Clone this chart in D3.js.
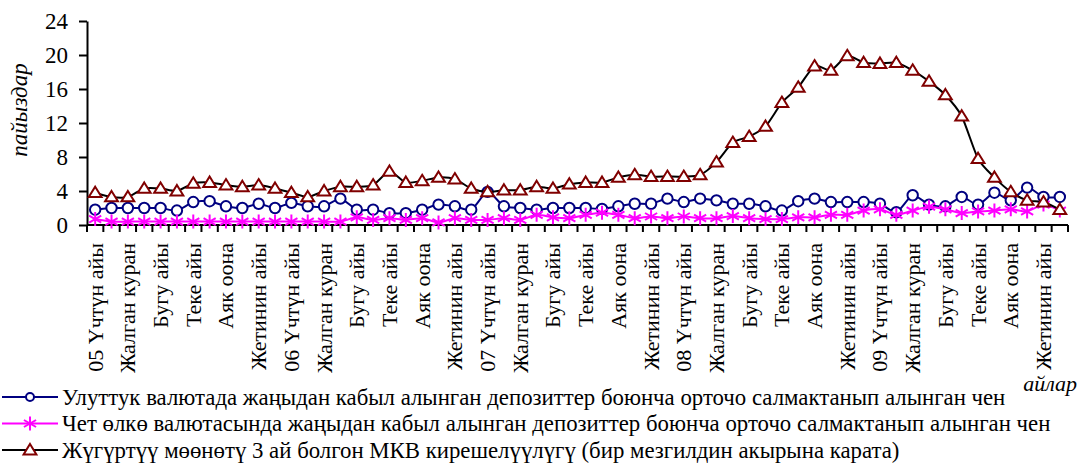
<!DOCTYPE html>
<html><head><meta charset="utf-8">
<script src="https://cdn.jsdelivr.net/npm/d3@7"></script>
<style>
html,body{margin:0;padding:0;background:#fff;}
svg{display:block;}
</style></head>
<body><svg id="c" width="1080" height="463"></svg>
<script>
const FONT = "Liberation Serif";
const months = ["Үчтүн айы","Бирдин айы","Жалган куран","Чын куран","Бугу айы","Кулжа","Теке айы","Баш оона","Аяк оона","Тогуздун айы","Жетинин айы","Бештин айы"];
const years = ["05","06","07","08","09"];
const categories = [];
years.forEach(y => months.forEach((m,i) => categories.push(i === 0 ? y + " " + m : m)));
const tickLabels = categories.filter((d,i) => i % 2 === 0);
const yTicks = [0,4,8,12,16,20,24];

const nationalRate = [1.8,2.0,2.0,2.0,2.0,1.7,2.7,2.8,2.2,2.0,2.5,2.0,
  2.6,2.2,2.2,3.1,1.8,1.8,1.4,1.4,1.8,2.4,2.2,1.8,
  3.9,2.2,2.0,1.8,2.0,2.0,2.0,1.9,2.2,2.5,2.5,3.1,
  2.7,3.1,2.9,2.5,2.5,2.2,1.7,2.8,3.1,2.7,2.7,2.7,
  2.5,1.5,3.5,2.4,2.2,3.3,2.4,3.8,2.9,4.4,3.3,3.3];
const foreignRate = [0.7,0.4,0.4,0.4,0.4,0.4,0.4,0.4,0.4,0.4,0.4,0.4,
  0.4,0.4,0.4,0.4,0.9,0.6,0.8,0.6,0.8,0.3,0.8,0.6,
  0.6,0.8,0.6,1.2,0.9,0.8,1.2,1.45,1.2,0.8,1.0,0.8,
  1.0,0.8,0.8,1.05,0.8,0.7,0.7,0.9,0.9,1.2,1.2,1.7,
  1.85,1.2,1.7,2.15,1.85,1.4,1.6,1.7,1.85,1.6,2.4,1.7];
const billYield = [3.8,3.3,3.3,4.3,4.3,4.0,4.9,5.0,4.7,4.5,4.7,4.3,
  3.8,3.3,4.0,4.5,4.5,4.7,6.3,5.0,5.2,5.6,5.4,4.3,
  3.9,4.1,4.1,4.5,4.3,4.8,5.0,5.0,5.6,5.9,5.7,5.7,
  5.7,5.9,7.4,9.7,10.4,11.6,14.4,16.2,18.7,18.2,19.9,19.1,
  19.0,19.1,18.2,16.9,15.3,12.8,7.8,5.6,3.9,2.9,2.7,1.8];
const legendLabels = [
  "Улуттук валютада жаңыдан кабыл алынган депозиттер боюнча орточо салмактанып алынган чен",
  "Чет өлкө валютасында жаңыдан кабыл алынган депозиттер боюнча орточо салмактанып алынган чен",
  "Жүгүртүү мөөнөтү 3 ай болгон МКВ кирешелүүлүгү (бир мезгилдин акырына карата)"
];
const yTitle = "пайыздар";
const xTitle = "айлар";

const svg = d3.select("#c").attr("font-family", FONT);
const x = d3.scaleBand().domain(d3.range(categories.length)).range([87, 1068]);
const y = d3.scaleLinear().domain([0, 24]).range([225, 21]);
const cx = i => x(i) + x.bandwidth() / 2;

// Y axis
const yAxis = svg.append("g").attr("transform", "translate(87,0)")
  .call(d3.axisLeft(y).tickValues(yTicks).tickSize(8).tickPadding(11).tickSizeOuter(0))
  .attr("font-family", FONT);
yAxis.select(".domain").attr("stroke", "#000").attr("stroke-width", 2);
yAxis.selectAll(".tick line").attr("stroke", "#000").attr("stroke-width", 2);
yAxis.selectAll(".tick text").attr("font-size", 23).attr("font-family", FONT).attr("fill", "#000").attr("dy", "0.33em");

// X axis
const xg = svg.append("g").attr("transform", "translate(0,225)");
xg.append("line").attr("x1", 87).attr("x2", 1068).attr("stroke", "#000").attr("stroke-width", 2);
const bounds = d3.range(categories.length + 1).map(i => i < categories.length ? x(i) : x(i - 1) + x.bandwidth());
xg.selectAll("line.t").data(bounds).join("line").attr("class", "t")
  .attr("x1", d => d).attr("x2", d => d).attr("y1", 0).attr("y2", 7)
  .attr("stroke", "#000").attr("stroke-width", 2);
xg.selectAll("text").data(d3.range(0, categories.length, 2)).join("text")
  .attr("transform", i => `translate(${cx(i) + 7.5},18) rotate(-90)`)
  .attr("text-anchor", "end").attr("font-size", 22).attr("font-family", FONT).attr("fill", "#000")
  .text(i => categories[i]);

// titles
svg.append("text").attr("transform", "translate(27,110) rotate(-90)")
  .attr("text-anchor", "middle").attr("font-size", 23).attr("font-family", FONT).attr("font-style", "italic").text(yTitle);
svg.append("text").attr("x", 1077).attr("y", 391).attr("text-anchor", "end")
  .attr("font-size", 22).attr("font-family", FONT).attr("font-style", "italic").text(xTitle);

const line = d3.line().x((d, i) => cx(i)).y(d => y(d)).curve(d3.curveCardinal.tension(0.3));

function starPath(s) {
  const r = s, d = s * 0.866;
  return `M0,${-r}L0,${r}M${-d},${-r/2}L${d},${r/2}M${-d},${r/2}L${d},${-r/2}`;
}
function triPath(s) {
  return `M0,${-s*0.75}L${s*0.8},${s*0.55}L${-s*0.8},${s*0.55}Z`;
}

// series 1 - national currency
svg.append("path").datum(nationalRate).attr("d", line).attr("fill", "none").attr("stroke", "#000080").attr("stroke-width", 2);
svg.append("g").selectAll("circle").data(nationalRate).join("circle")
  .attr("cx", (d, i) => cx(i)).attr("cy", d => y(d)).attr("r", 5.2)
  .attr("fill", "#fff").attr("stroke", "#000080").attr("stroke-width", 2);

// series 2 - foreign currency
svg.append("path").datum(foreignRate).attr("d", line).attr("fill", "none").attr("stroke", "#ff00ff").attr("stroke-width", 2);
svg.append("g").selectAll("path").data(foreignRate).join("path")
  .attr("transform", (d, i) => `translate(${cx(i)},${y(d)})`).attr("d", starPath(7))
  .attr("fill", "none").attr("stroke", "#ff00ff").attr("stroke-width", 2);

// series 3 - bill yield
svg.append("path").datum(billYield).attr("d", line).attr("fill", "none").attr("stroke", "#000").attr("stroke-width", 2);
svg.append("g").selectAll("path").data(billYield).join("path")
  .attr("transform", (d, i) => `translate(${cx(i)},${y(d)})`).attr("d", triPath(8))
  .attr("fill", "#fff").attr("stroke", "#800000").attr("stroke-width", 2);

// legend
const lgColors = ["#000080", "#ff00ff", "#000"];
const lg = svg.append("g");
legendLabels.forEach((t, k) => {
  const yy = 397 + k * 26.5;
  const g = lg.append("g").attr("transform", `translate(0,${yy})`);
  g.append("line").attr("x1", 2).attr("x2", 58).attr("stroke", lgColors[k]).attr("stroke-width", 2);
  if (k === 0) g.append("circle").attr("cx", 30).attr("r", 4).attr("fill", "#fff").attr("stroke", "#000080").attr("stroke-width", 2);
  if (k === 1) g.append("path").attr("transform", "translate(30,0)").attr("d", starPath(7)).attr("fill", "none").attr("stroke", "#ff00ff").attr("stroke-width", 2);
  if (k === 2) g.append("path").attr("transform", "translate(30,0)").attr("d", triPath(8)).attr("fill", "#fff").attr("stroke", "#800000").attr("stroke-width", 2);
  g.append("text").attr("x", 62).attr("y", 7.5).attr("font-size", 22.8).attr("font-family", FONT).attr("fill", "#000").text(t);
});
</script></body></html>
